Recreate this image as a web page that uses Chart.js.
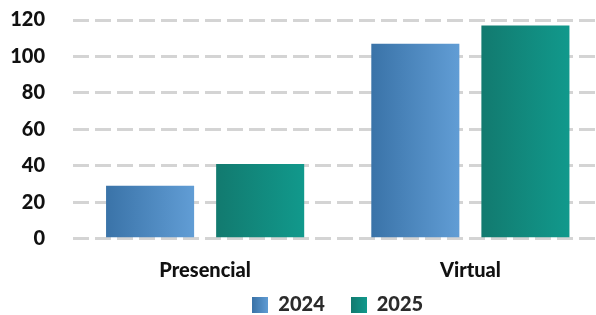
<!DOCTYPE html>
<html>
<head>
<meta charset="utf-8">
<script src="https://cdn.jsdelivr.net/npm/chart.js@4.4.1/dist/chart.umd.min.js"></script>
<style>
  html, body { margin: 0; padding: 0; background: #ffffff; overflow: hidden; }
  #wrap { position: relative; width: 603px; height: 351px; }
</style>
</head>
<body>
<div id="wrap"><canvas id="c"></canvas></div>
<script>
const categories = ["Presencial", "Virtual"];
const seriesNames = ["2024", "2025"];
const values2024 = [29, 107];
const values2025 = [41, 117];
const yTicks = [0, 20, 40, 60, 80, 100, 120];

const gradientStops = [
  ["#3a73a8", "#619dd5"],
  ["#127a6f", "#11998c"]
];

function legendSwatch(stops) {
  const cv = document.createElement('canvas');
  cv.width = 16; cv.height = 16;
  const g = cv.getContext('2d');
  const gr = g.createLinearGradient(0, 0, 16, 0);
  gr.addColorStop(0, stops[0]);
  gr.addColorStop(1, stops[1]);
  g.fillStyle = gr;
  g.fillRect(0, 0, 16, 16);
  return cv;
}

const barGradientPlugin = {
  id: 'barGradient',
  beforeDatasetsDraw(chart) {
    const ctx = chart.ctx;
    chart.data.datasets.forEach((ds, di) => {
      const meta = chart.getDatasetMeta(di);
      meta.data.forEach(el => {
        const left = el.x - el.width / 2, right = el.x + el.width / 2;
        const gr = ctx.createLinearGradient(left, 0, right, 0);
        gr.addColorStop(0, gradientStops[di][0]);
        gr.addColorStop(1, gradientStops[di][1]);
        el.options = Object.assign({}, el.options, { backgroundColor: gr });
      });
    });
  }
};

// pull the legend a little closer to the category labels
const legendNudgePlugin = {
  id: 'legendNudge',
  afterLayout(chart) {
    const lg = chart.legend;
    if (lg) { lg.top -= 26.2; lg.bottom -= 26.2; }
  }
};

const FONT = "Lato, 'Open Sans', sans-serif";
const WEIGHT = '900';

new Chart(document.getElementById('c'), {
  type: 'bar',
  data: {
    labels: categories,
    datasets: [
      { label: seriesNames[0], data: values2024, backgroundColor: gradientStops[0][1], borderWidth: 0,
        categoryPercentage: 0.83, barPercentage: 0.8 },
      { label: seriesNames[1], data: values2025, backgroundColor: gradientStops[1][1], borderWidth: 0,
        categoryPercentage: 0.83, barPercentage: 0.8 }
    ]
  },
  options: {
    responsive: true,
    maintainAspectRatio: false,
    animation: false,
    layout: { padding: { left: 11, right: 0, top: 20, bottom: 0.3 } },
    scales: {
      x: {
        grid: { display: false },
        border: { display: false },
        ticks: { color: '#111111', font: { family: FONT, size: 20, weight: WEIGHT }, padding: 12 },
        afterFit(s) { s.paddingLeft = 0; s.paddingRight = 0; }
      },
      y: {
        min: 0, max: 120,
        afterBuildTicks(axis) { axis.ticks = yTicks.map(v => ({ value: v })); },
        grid: { color: '#d4d4d4', lineWidth: 3, drawTicks: false },
        border: { display: false, dash: [16, 6] },
        ticks: { color: '#111111', font: { family: FONT, size: 20, weight: WEIGHT }, padding: 27.5 },
        afterFit(s) { s.width = 61.5; s.paddingTop = 0; s.paddingBottom = 0; }
      }
    },
    plugins: {
      legend: {
        position: 'bottom',
        fullSize: false,
        labels: {
          color: '#2b2b2b',
          font: { family: FONT, size: 20, weight: WEIGHT },
          usePointStyle: true,
          boxHeight: 16,
          pointStyleWidth: 16,
          padding: 26,
          generateLabels(chart) {
            return chart.data.datasets.map((ds, i) => ({
              text: ds.label,
              pointStyle: legendSwatch(gradientStops[i]),
              fillStyle: gradientStops[i][1],
              strokeStyle: 'transparent',
              lineWidth: 0,
              hidden: false,
              datasetIndex: i,
              fontColor: '#2b2b2b'
            }));
          }
        }
      },
      tooltip: { enabled: false }
    }
  },
  plugins: [barGradientPlugin, legendNudgePlugin]
});
</script>
</body>
</html>
